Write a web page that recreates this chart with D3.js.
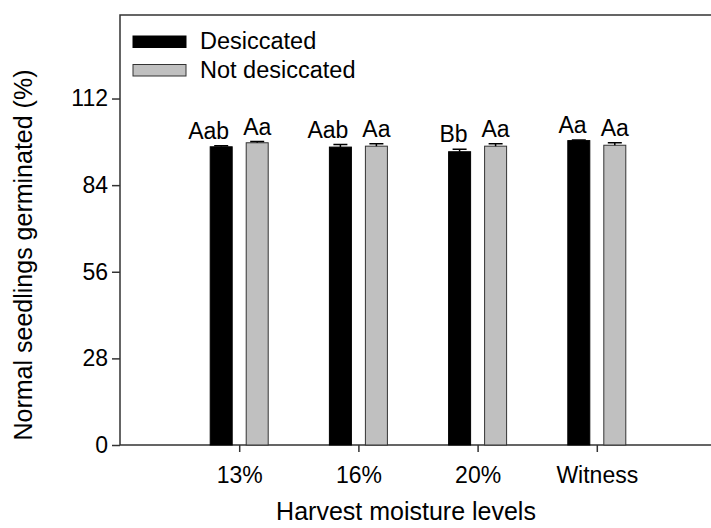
<!DOCTYPE html>
<html>
<head>
<meta charset="utf-8">
<script src="https://cdn.jsdelivr.net/npm/d3@7"></script>
<style>
  body { margin: 0; background: #fff; }
  text { font-family: "Liberation Sans", Arial, sans-serif; fill: #000; }
</style>
</head>
<body>
<script>
var categories = ["13%", "16%", "20%", "Witness"];
var seriesNames = ["Desiccated", "Not desiccated"];
var desiccated = [96.4, 96.3, 94.8, 98.4];
var notDesiccated = [97.7, 96.6, 96.6, 96.9];
var errDesiccated = [0.3, 0.8, 0.8, 0.2];
var errNotDesiccated = [0.4, 0.8, 0.8, 0.8];
var lettersDesiccated = ["Aab", "Aab", "Bb", "Aa"];
var lettersNotDesiccated = ["Aa", "Aa", "Aa", "Aa"];
var yTicks = [0, 28, 56, 84, 112];

var width = 711, height = 528;
var plotLeft = 120, plotTop = 15, plotBottom = 445, plotRight = 716;
var fontSize = 23;

var svg = d3.select("body").append("svg")
  .attr("width", width)
  .attr("height", height);

var x = d3.scaleLinear().domain([0, categories.length + 1]).range([plotLeft, plotRight]);
var y = d3.scaleLinear().domain([0, 139]).range([plotBottom, plotTop]);

var barWidth = 22, barGap = 7;
var fills = ["#000000", "#c0c0c0"];
var values = [desiccated, notDesiccated];
var errs = [errDesiccated, errNotDesiccated];
var letters = [lettersDesiccated, lettersNotDesiccated];

// frame (right side runs off the picture)
svg.append("rect")
  .attr("x", plotLeft).attr("y", plotTop)
  .attr("width", plotRight - plotLeft).attr("height", plotBottom - plotTop)
  .attr("fill", "none").attr("stroke", "#333").attr("stroke-width", 1.5);

// bars
var rows = [];
values.forEach(function(vals, s) {
  vals.forEach(function(v, i) {
    rows.push({s: s, i: i, v: v, e: errs[s][i], label: letters[s][i]});
  });
});

var barX = function(d) {
  var c = x(d.i + 1);
  return d.s === 0 ? c - barGap - barWidth : c + barGap;
};

svg.selectAll("rect.bar")
  .data(rows)
  .enter()
  .append("rect")
  .attr("class", "bar")
  .attr("x", barX)
  .attr("y", function(d) { return y(d.v); })
  .attr("width", barWidth)
  .attr("height", function(d) { return y(0) - y(d.v); })
  .attr("fill", function(d) { return fills[d.s]; })
  .attr("stroke", function(d) { return d.s === 0 ? "#000" : "#333"; })
  .attr("stroke-width", 1);

// error bars (upper only)
var capHalf = 7;
svg.selectAll("path.err")
  .data(rows)
  .enter()
  .append("path")
  .attr("class", "err")
  .attr("d", function(d) {
    var cx = barX(d) + barWidth / 2;
    var y1 = y(d.v), y2 = y(d.v + d.e);
    return "M" + cx + "," + y1 + "V" + y2 + "M" + (cx - capHalf) + "," + y2 + "H" + (cx + capHalf);
  })
  .attr("fill", "none")
  .attr("stroke", "#000")
  .attr("stroke-width", 1.5);

// significance letters
var labels = svg.selectAll("text.letter")
  .data(rows)
  .enter()
  .append("text")
  .attr("class", "letter")
  .attr("x", function(d) { return barX(d) + barWidth / 2; })
  .attr("y", function(d) { return y(d.v + d.e) - 7; })
  .attr("text-anchor", "middle")
  .attr("font-size", fontSize)
  .text(function(d) { return d.label; });

// nudge the left label away when it crowds its neighbour
labels.each(function(d) {
  if (d.s !== 0) return;
  var me = this.getBBox();
  var other = labels.filter(function(o) { return o.s === 1 && o.i === d.i; }).node().getBBox();
  var overlap = me.x + me.width + 14 - other.x;
  if (overlap > 0) {
    d3.select(this).attr("x", +d3.select(this).attr("x") - overlap);
  }
});

// y axis
var yAxis = svg.append("g")
  .attr("transform", "translate(" + plotLeft + ",0)")
  .call(d3.axisLeft(y).tickValues(yTicks).tickSize(8).tickPadding(4));
yAxis.select(".domain").remove();
yAxis.selectAll("line").attr("stroke", "#333").attr("stroke-width", 1.5);
yAxis.selectAll("text").attr("font-size", fontSize).attr("font-family", null).attr("fill", "#000");

// x axis
var xAxis = svg.append("g")
  .attr("transform", "translate(0," + plotBottom + ")")
  .call(d3.axisBottom(x)
    .tickValues(d3.range(1, categories.length + 1))
    .tickFormat(function(d) { return categories[d - 1]; })
    .tickSize(7).tickPadding(15));
xAxis.select(".domain").remove();
xAxis.selectAll("line").attr("stroke", "#333").attr("stroke-width", 1.5);
xAxis.selectAll("text").attr("font-size", fontSize).attr("font-family", null).attr("fill", "#000");

// axis titles
svg.append("text")
  .attr("x", 406).attr("y", 520)
  .attr("text-anchor", "middle")
  .attr("font-size", 25)
  .text("Harvest moisture levels");

svg.append("text")
  .attr("transform", "translate(32,255) rotate(-90)")
  .attr("text-anchor", "middle")
  .attr("font-size", 25)
  .text("Normal seedlings germinated (%)");

// legend
var legend = svg.selectAll("g.legend")
  .data(seriesNames)
  .enter()
  .append("g")
  .attr("class", "legend")
  .attr("transform", function(d, i) { return "translate(133," + (36 + i * 28.5) + ")"; });

legend.append("rect")
  .attr("width", 53).attr("height", 11.5)
  .attr("fill", function(d, i) { return fills[i]; })
  .attr("stroke", function(d, i) { return i === 0 ? "#000" : "#333"; })
  .attr("stroke-width", 1);

legend.append("text")
  .attr("x", 67).attr("y", 13)
  .attr("font-size", 23.5)
  .text(function(d) { return d; });
</script>
</body>
</html>
